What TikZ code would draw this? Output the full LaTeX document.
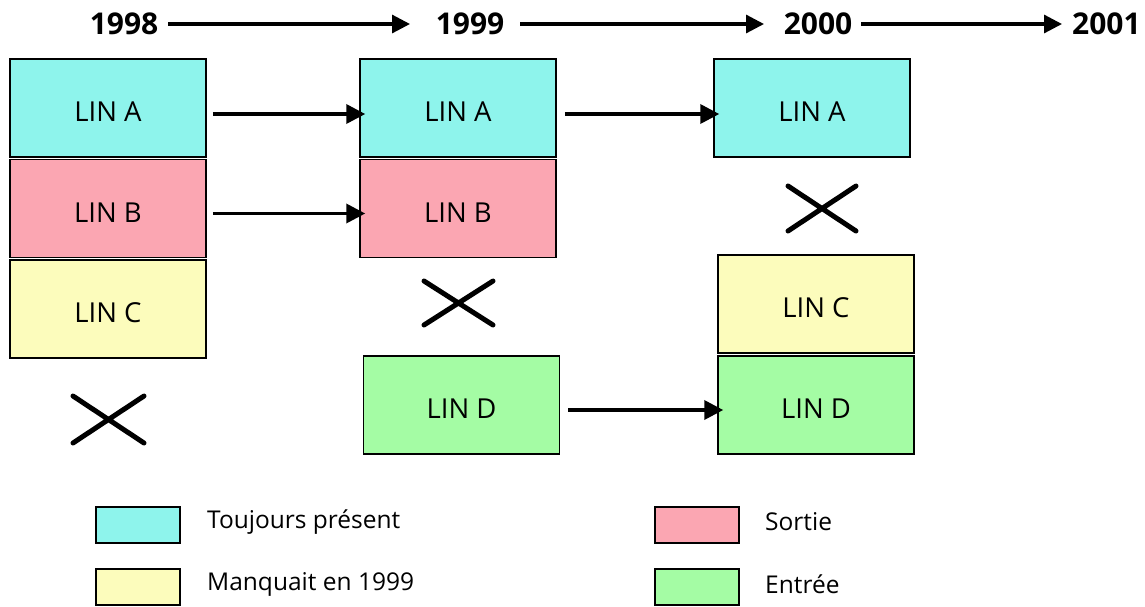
\documentclass[tikz,border=0pt]{standalone}
\usepackage{fontspec}
\setmainfont{Open Sans}
\usetikzlibrary{arrows.meta}
\definecolor{ccyan}{HTML}{8EF4EC}
\definecolor{cpink}{HTML}{FBA6B2}
\definecolor{cyellow}{HTML}{FCFCBC}
\definecolor{cgreen}{HTML}{A4FCA4}
\tikzset{
  lin/.style={draw=black, line width=1.5pt, minimum width=196pt, minimum height=98pt, inner sep=0pt, text height=27.5pt, text depth=0pt, font=\fontsize{27.5}{32}\selectfont},
  year/.style={font=\fontsize{30}{34}\selectfont\bfseries, inner sep=0pt},
  tarrow/.style={line width=3.2pt, -{Triangle[length=18pt,width=18pt]}},
  barrow/.style={line width=3.6pt, -{Triangle[length=19pt,width=19pt]}},
  swatch/.style={draw=black, line width=1.5pt, minimum width=84pt, minimum height=36pt, inner sep=0pt},
  legtext/.style={anchor=west, font=\fontsize{24.5}{28}\selectfont, inner sep=0pt},
  crossline/.style={line width=5pt, line cap=round}
}
\begin{document}
\begin{tikzpicture}[x=1pt,y=-1pt]
\useasboundingbox (0,0) rectangle (1145,606);
% years
\node[year] (y98) at (124,24) {1998};
\node[year] (y99) at (470,24) {1999};
\node[year] (y00) at (818,24) {2000};
\node[year, anchor=west] (y01) at (1072,24) {2001};
\coordinate (t1) at (168,24);
\coordinate (t1e) at (410,24);
\coordinate (t2) at (520,24);
\coordinate (t2e) at (764,24);
\coordinate (t3) at (861,24);
\coordinate (t3e) at (1062,24);
\draw[tarrow] (t1) -- (t1e);
\draw[tarrow] (t2) -- (t2e);
\draw[tarrow] (t3) -- (t3e);
% column 1
\node[lin, fill=ccyan] (a1) at (108,108) {LIN A};
\node[lin, fill=cpink] (b1) at (108,208.5) {LIN B};
\node[lin, fill=cyellow] (c1) at (108,309) {LIN C};
% column 2
\node[lin, fill=ccyan] (a2) at (458,108) {LIN A};
\node[lin, fill=cpink] (b2) at (458,208.5) {LIN B};
\node[lin, fill=cgreen] (d2) at (461.5,405) {LIN D};
% column 3
\node[lin, fill=ccyan] (a3) at (812,108) {LIN A};
\node[lin, fill=cyellow] (c3) at (816,304) {LIN C};
\node[lin, fill=cgreen] (d3) at (816,405) {LIN D};
% arrows between boxes
\draw[barrow] ([xshift=6pt,yshift=-6pt]a1.east) -- ([xshift=6pt,yshift=-6pt]a2.west);
\draw[barrow] ([xshift=6pt,yshift=-5pt]b1.east) -- ([xshift=6pt,yshift=-5pt]b2.west);
\draw[barrow] ([xshift=8pt,yshift=-6pt]a2.east) -- ([xshift=6pt,yshift=-6pt]a3.west);
\draw[barrow] ([xshift=8pt,yshift=-5pt]d2.east) -- ([xshift=6pt,yshift=-5pt]d3.west);
% crosses
\draw[crossline] (73,396) -- (144,443) (73,443) -- (144,396);
\draw[crossline] (424,281) -- (493,325) (424,325) -- (493,281);
\draw[crossline] (788,186) -- (856,231) (788,231) -- (856,186);
% legend
\node[swatch, fill=ccyan] (l1) at (138,525) {};
\node[legtext] (l1t) at (207,522) {Toujours présent};
\node[swatch, fill=cyellow] (l2) at (138,587) {};
\node[legtext] (l2t) at (207,584) {Manquait en 1999};
\node[swatch, fill=cpink] (l3) at (697,525) {};
\node[legtext] (l3t) at (765,522) {Sortie};
\node[swatch, fill=cgreen] (l4) at (697,587) {};
\node[legtext] (l4t) at (765,584) {Entrée};
\end{tikzpicture}
\end{document}
